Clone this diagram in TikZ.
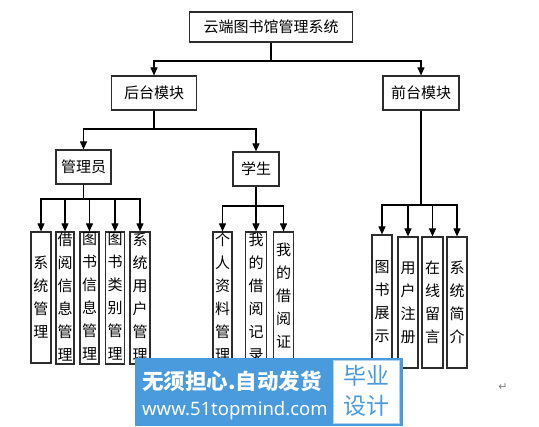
\documentclass[tikz,border=0pt]{standalone}
\usepackage{fontspec}
\newfontfamily\cjk{Noto Sans CJK SC}
\newfontfamily\wmsans{Noto Sans}
\newfontfamily\dejavu{DejaVu Sans}
\usetikzlibrary{arrows.meta}
\definecolor{wmblue}{RGB}{74,155,222}
\definecolor{linegray}{RGB}{45,45,45}
\begin{document}
\begin{tikzpicture}[x=1pt,y=-1pt,
  box/.style={draw=linegray, line width=1.2pt, inner sep=0pt, font=\cjk\fontsize{15}{18}\selectfont},
  vbox/.style={draw=linegray, line width=1.2pt, inner sep=0pt},
  vtext/.style={inner sep=0pt, align=center, font=\cjk\fontsize{15}{23}\selectfont},
  conn/.style={draw=black, line width=1.1pt},
  arr/.style={conn, -{Triangle[width=7pt,length=8pt]}}]
\useasboundingbox (0,0) rectangle (539,427);
% level 0 and 1
\node[box, minimum width=163pt, minimum height=30pt] (top) at (271,27) {云端图书馆管理系统};
\node[box, minimum width=85pt, minimum height=34pt] (hou) at (154,93) {后台模块};
\node[box, minimum width=76pt, minimum height=34pt] (qian) at (421,93) {前台模块};
% level 2
\node[box, minimum width=55pt, minimum height=34pt] (mgr) at (83.5,167) {管理员};
\node[box, minimum width=46pt, minimum height=34pt] (stu) at (256,169) {学生};
% manager children
\node[vbox, minimum width=20pt, minimum height=131pt] (m1) at (41,297.5) {};
\node[vtext] (m1t) at (m1.center) {系\\统\\管\\理};
\node[vbox, minimum width=18pt, minimum height=132pt] (m2) at (65,298) {};
\node[vtext, anchor=north] (m2t) at ([yshift=-1pt]m2.north) {借\\阅\\信\\息\\管\\理};
\node[vbox, minimum width=19pt, minimum height=132pt] (m3) at (89.5,298) {};
\node[vtext, anchor=north] (m3t) at ([yshift=-1pt]m3.north) {图\\书\\信\\息\\管\\理};
\node[vbox, minimum width=19pt, minimum height=132pt] (m4) at (115,298) {};
\node[vtext, anchor=north] (m4t) at ([yshift=-1pt]m4.north) {图\\书\\类\\别\\管\\理};
\node[vbox, minimum width=20pt, minimum height=132pt] (m5) at (140,298) {};
\node[vtext, anchor=north] (m5t) at ([yshift=-1pt]m5.north) {系\\统\\用\\户\\管\\理};
% student children
\node[vbox, minimum width=19pt, minimum height=132pt] (s1) at (222.5,298) {};
\node[vtext, anchor=north] (s1t) at ([yshift=-1pt]s1.north) {个\\人\\资\\料\\管\\理};
\node[vbox, minimum width=21pt, minimum height=132pt] (s2) at (256,298) {};
\node[vtext, anchor=north] (s2t) at ([yshift=-1pt]s2.north) {我\\的\\借\\阅\\记\\录};
\node[vbox, minimum width=20pt, minimum height=132pt] (s3) at (283.5,298) {};
\node[vtext, anchor=north] (s3t) at ([yshift=-11pt]s3.north) {我\\的\\借\\阅\\证};
% front children
\node[vbox, minimum width=20pt, minimum height=133pt] (f1) at (382,301.5) {};
\node[vtext] (f1t) at (f1.center) {图\\书\\展\\示};
\node[vbox, minimum width=20pt, minimum height=131pt] (f2) at (408,302.5) {};
\node[vtext] (f2t) at (f2.center) {用\\户\\注\\册};
\node[vbox, minimum width=21pt, minimum height=131pt] (f3) at (432.5,302.5) {};
\node[vtext] (f3t) at (f3.center) {在\\线\\留\\言};
\node[vbox, minimum width=20pt, minimum height=131pt] (f4) at (457,302.5) {};
\node[vtext] (f4t) at (f4.center) {系\\统\\简\\介};
% connectors
\draw[conn] (top.south) -- (top.south |- 0,61) coordinate (j1);
\draw[arr] (j1) -| (hou.north);
\draw[arr] (j1) -| (qian.north);
\draw[conn] (hou.south) -- (hou.south |- 0,129) coordinate (j2);
\draw[arr] (j2) -| (mgr.north);
\draw[arr] (j2) -| (stu.north);
\draw[conn] (mgr.south) -- (mgr.south |- 0,199) coordinate (j3);
\foreach \n in {m1,m2,m3,m4,m5} \draw[arr] (j3) -| (\n.north);
\draw[conn] (stu.south) -- (stu.south |- 0,206) coordinate (j4);
\foreach \n in {s1,s2,s3} \draw[arr] (j4) -| (\n.north);
\draw[conn] (qian.south) -- (qian.south |- 0,205) coordinate (j5);
\foreach \n in {f1,f2,f3,f4} \draw[arr] (j5) -| (\n.north);
% paragraph mark
\node[text=gray, font=\dejavu\fontsize{11}{11}\selectfont, inner sep=0pt] (ret) at (503,387) {↵};
% watermark
\node[fill=wmblue, minimum width=268pt, minimum height=68pt, inner sep=0pt] (wm) at (269,392) {};
\node[fill=white, draw=wmblue!45, line width=0.8pt, minimum width=66pt, minimum height=63pt, inner sep=0pt] (wmw) at (366,391.5) {};
\node[text=white, font=\cjk\bfseries\fontsize{21.5}{21.5}\selectfont, anchor=west, inner sep=0pt] (wm1) at (142,381) {无须担心.自动发货};
\node[text=white, font=\wmsans\bfseries\fontsize{18.5}{18.5}\selectfont, anchor=west, inner sep=0pt] (wm2) at (142,411) {www.51topmind.com};
\node[text=wmblue, font=\cjk\fontsize{23}{30}\selectfont, align=center, inner sep=0pt] (wm3) at (366,391) {毕业\\设计};
\end{tikzpicture}
\end{document}
